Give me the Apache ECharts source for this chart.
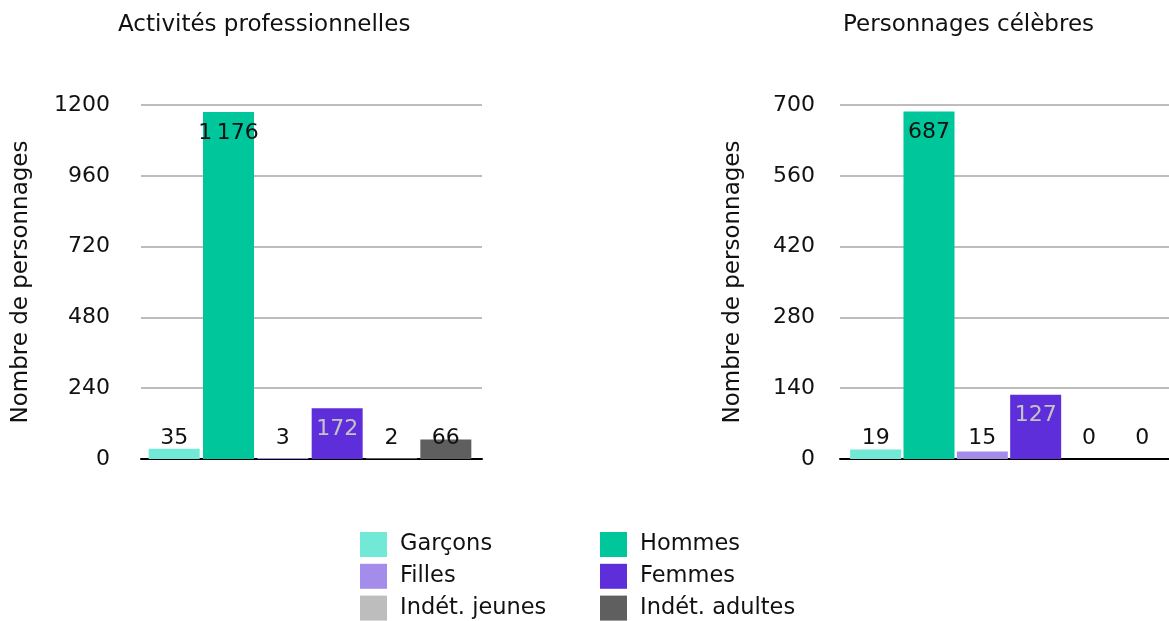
<!DOCTYPE html>
<html>
<head>
<meta charset="utf-8">
<script src="https://cdn.jsdelivr.net/npm/echarts@6/dist/echarts.min.js"></script>
<style>
  html, body { margin: 0; padding: 0; background: #fff; }
  #chart { width: 1169px; height: 621px; }
</style>
</head>
<body>
<div id="chart"></div>
<script>
// categories / legend names
var categories = ['Garçons', 'Hommes', 'Filles', 'Femmes', 'Indét. jeunes', 'Indét. adultes'];
var colors = ['#72e8d6', '#00c69b', '#a48cea', '#5e2edb', '#bdbdbd', '#5f5f5f'];
var labelColors = ['#111', '#111', '#111', '#c4c4c4', '#111', '#111'];

// values
var proValues = [35, 1176, 3, 172, 2, 66];     // Activités professionnelles
var celebValues = [19, 687, 15, 127, 0, 0];    // Personnages célèbres

// y axis ticks
var proTicks = [0, 240, 480, 720, 960, 1200];
var celebTicks = [0, 140, 280, 420, 560, 700];

var font = 'DejaVu Sans';

function fmt(v) {
  // séparateur de milliers à la française
  return String(v).replace(/\B(?=(\d{3})+(?!\d))/g, '\u2009');
}

// one series per category, stacked so each bar sits in its own slot
function makeSeries(values, ticks, axisIdx, stack) {
  var max = ticks[ticks.length - 1];
  return categories.map(function (name, i) {
    var data = values.map(function (v, j) {
      if (j !== i) return '-';
      var big = v > max * 0.1;
      return {
        value: v,
        label: { position: big ? 'insideTop' : 'insideBottom' }
      };
    });
    return {
      name: name,
      type: 'bar',
      stack: stack,
      xAxisIndex: axisIdx,
      yAxisIndex: axisIdx,
      barWidth: 51,
      itemStyle: { color: colors[i] },
      label: {
        show: true,
        distance: 10,
        fontFamily: font,
        fontSize: 22,
        color: labelColors[i],
        formatter: function (p) { return fmt(p.value); }
      },
      data: data
    };
  });
}

function bgAxes(ticks, gridIdx, labelMargin, nameGap) {
  return {
    y: {
      type: 'value',
      gridIndex: gridIdx,
      min: ticks[0],
      max: ticks[ticks.length - 1],
      interval: ticks[1] - ticks[0],
      name: 'Nombre de personnages',
      nameLocation: 'middle',
      nameGap: nameGap,
      nameTextStyle: { fontFamily: font, fontSize: 23, color: '#111' },
      axisLine: { show: false },
      axisTick: { show: false },
      axisLabel: { margin: labelMargin, fontFamily: font, fontSize: 22, color: '#111',
        formatter: function (v) { return String(v); } },
      splitLine: { lineStyle: { color: '#bdbdbd', width: 2 } }
    },
    x: {
      type: 'category',
      gridIndex: gridIdx,
      data: [''],
      axisLine: { lineStyle: { color: '#000', width: 2 } },
      axisTick: { show: false },
      axisLabel: { show: false }
    }
  };
}

function barAxes(ticks, gridIdx) {
  return {
    y: {
      type: 'value',
      gridIndex: gridIdx,
      min: ticks[0],
      max: ticks[ticks.length - 1],
      show: false,
      splitLine: { show: false }
    },
    x: {
      type: 'category',
      gridIndex: gridIdx,
      data: categories,
      show: false
    }
  };
}

var a0 = bgAxes(proTicks, 0, 31, 108);
var a1 = barAxes(proTicks, 1);
var a2 = bgAxes(celebTicks, 2, 25, 95);
var a3 = barAxes(celebTicks, 3);

var titleStyle = { fontFamily: font, fontSize: 23, fontWeight: 'normal', color: '#111' };
var legendText = { fontFamily: font, fontSize: 22.5, color: '#111', padding: [0, 0, 0, 8] };

var option = {
  animation: false,
  title: [
    { text: 'Activités professionnelles', left: 118, top: 14, padding: 0, textStyle: titleStyle },
    { text: 'Personnages célèbres', left: 843, top: 14, padding: 0, textStyle: titleStyle }
  ],
  legend: [
    { data: ['Garçons', 'Filles', 'Indét. jeunes'], orient: 'vertical', left: 360, top: 532,
      padding: 0, height: 89, icon: 'rect', itemWidth: 27, itemHeight: 25, itemGap: 6.8,
      textStyle: legendText },
    { data: ['Hommes', 'Femmes', 'Indét. adultes'], orient: 'vertical', left: 600, top: 532,
      padding: 0, height: 89, icon: 'rect', itemWidth: 27, itemHeight: 25, itemGap: 6.8,
      textStyle: legendText }
  ],
  grid: [
    { left: 141, top: 105, width: 341, height: 354 },
    { left: 147, top: 105, width: 326, height: 354 },
    { left: 840, top: 105, width: 341, height: 354 },
    { left: 849, top: 105, width: 326, height: 354 }
  ],
  xAxis: [a0.x, a1.x, a2.x, a3.x],
  yAxis: [a0.y, a1.y, a2.y, a3.y],
  series: makeSeries(proValues, proTicks, 1, 'pro').concat(makeSeries(celebValues, celebTicks, 3, 'celeb'))
};

var myChart = echarts.init(document.getElementById('chart'));
myChart.setOption(option);
</script>
</body>
</html>
